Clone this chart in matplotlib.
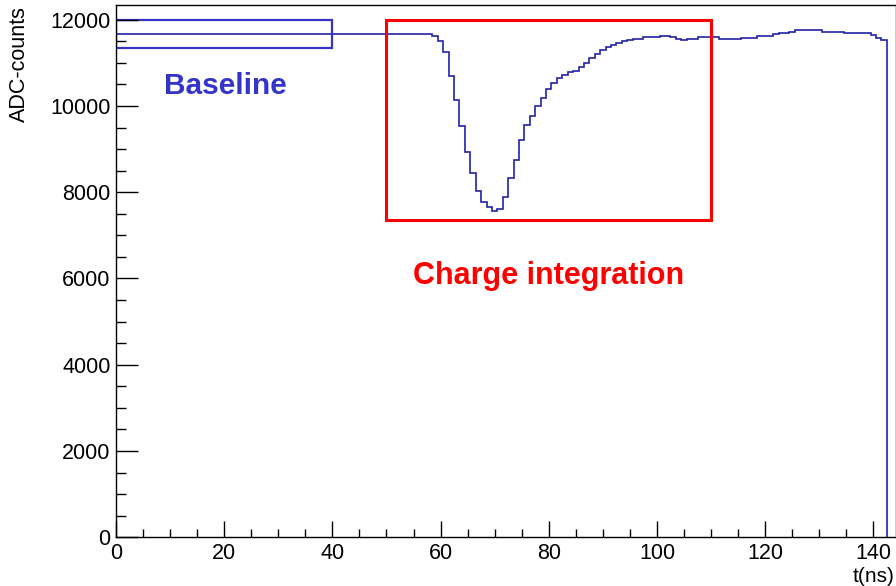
import matplotlib
matplotlib.use("Agg")
import matplotlib.pyplot as plt
from matplotlib.patches import Rectangle
from matplotlib.ticker import MultipleLocator
import numpy as np

plt.rcParams['font.family'] = ['Liberation Sans', 'DejaVu Sans']

# ADC samples, one per ns (bin centres at t = 0..142)
baseline_part = [11660] * 59          # t = 0..58
pulse_part = [11623, 11514, 11259, 10703, 10139, 9530, 8926, 8445, 8029, 7775,
              7665, 7575, 7600, 7897, 8323, 8748, 9200, 9550, 9775, 10000,
              10193, 10387, 10526, 10642, 10719, 10796, 10819, 10912, 10990, 11106,
              11206, 11298, 11360, 11414, 11468, 11507, 11530, 11560, 11560, 11592,
              11592, 11592, 11623, 11623, 11592, 11553, 11530, 11553, 11553]   # t = 59..107
tail_part = [11592, 11592, 11592, 11592, 11553, 11553, 11553, 11553, 11585, 11585,
             11585, 11623, 11623, 11623, 11662, 11693, 11693, 11723, 11754, 11754,
             11754, 11754, 11754, 11716, 11716, 11716, 11716, 11685, 11685, 11685,
             11685, 11685, 11639, 11577, 11523]   # t = 108..142
adc = np.array(baseline_part + pulse_part + tail_part)
edges = np.arange(len(adc) + 1) - 0.5

# analysis windows (t range, adc range)
baseline_win = (0, 40, 11350, 12000)
charge_win = (50, 110, 7350, 12000)

fig = plt.figure(figsize=(8.96, 5.86), dpi=100)
ax = fig.add_axes([116 / 896, (586 - 537.3) / 586, (895.5 - 116) / 896, (537.3 - 5) / 586])

ax.stairs(adc, edges, baseline=0, color='#2424a6', lw=1.2)

t0, t1, a0, a1 = baseline_win
ax.add_patch(Rectangle((t0, a0), t1 - t0, a1 - a0, fill=False, ec='#3434c8', lw=1.6))
t0, t1, a0, a1 = charge_win
ax.add_patch(Rectangle((t0, a0), t1 - t0, a1 - a0, fill=False, ec='#ff0000', lw=2.2))

ax.text(20.2, 10470, 'Baseline', color='#3434c8', fontsize=21.5, fontweight='bold',
        ha='center', va='center')
ax.text(80, 6060, 'Charge integration', color='#ff0000', fontsize=22, fontweight='bold',
        ha='center', va='center')

ax.set_xlim(0, 144.1)
ax.set_ylim(0, 12340)
ax.xaxis.set_major_locator(MultipleLocator(20))
ax.xaxis.set_minor_locator(MultipleLocator(5))
ax.yaxis.set_major_locator(MultipleLocator(2000))
ax.yaxis.set_minor_locator(MultipleLocator(500))
ax.tick_params(which='both', direction='in', top=False, right=False, labelsize=15.5, width=1)
ax.tick_params(axis='x', which='major', length=11.5, pad=4)
ax.tick_params(axis='x', which='minor', length=5.8)
ax.tick_params(axis='y', which='major', length=15.5, pad=4)
ax.tick_params(axis='y', which='minor', length=7.2)
for s in ax.spines.values():
    s.set_linewidth(1.0)

fig.text(19 / 896, 1 - 6 / 586, 'ADC-counts', rotation=90, ha='center', va='top', fontsize=15.5)
fig.text(894 / 896, 0.5 / 586, 't(ns)', ha='right', va='bottom', fontsize=15)

fig.savefig('out.png', dpi=100)
